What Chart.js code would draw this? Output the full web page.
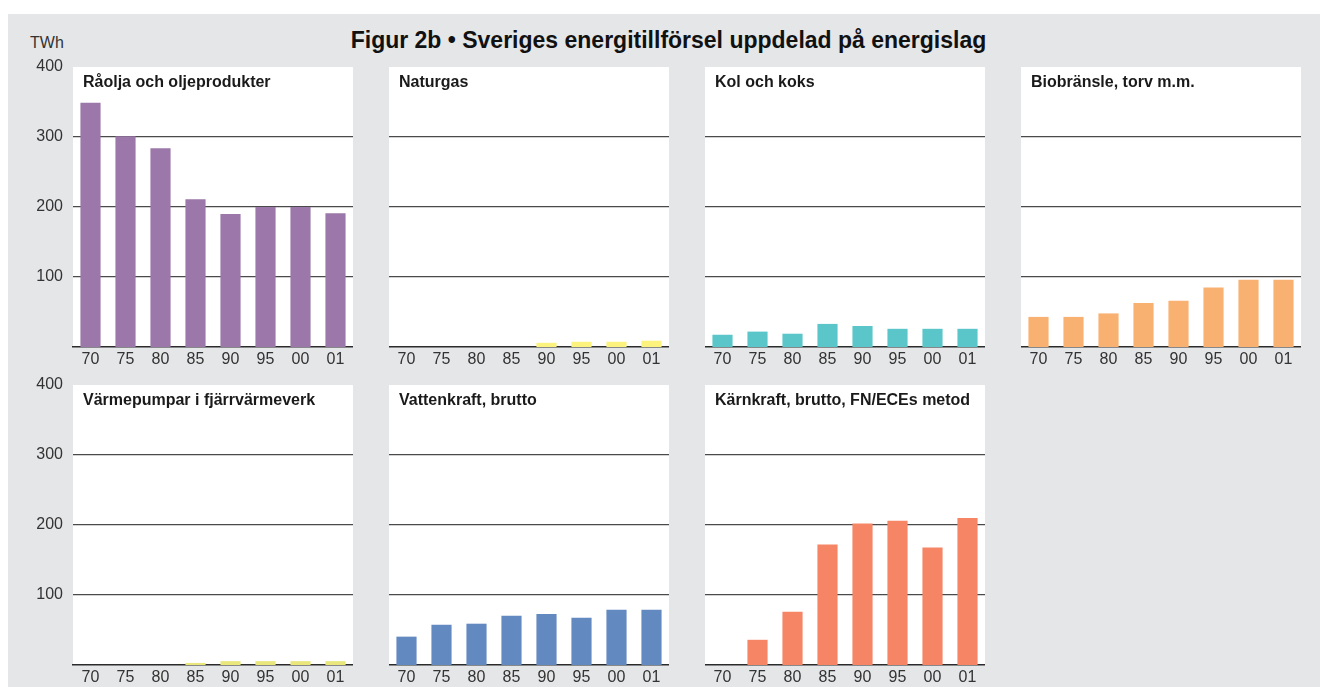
<!DOCTYPE html>
<html lang="sv">
<head>
<meta charset="utf-8">
<script src="https://cdn.jsdelivr.net/npm/chart.js@4/dist/chart.umd.min.js"></script>
<style>
  html, body { margin: 0; padding: 0; background: #ffffff; }
  body { width: 1320px; height: 687px; position: relative; overflow: hidden;
         font-family: "Liberation Sans", Arial, Helvetica, sans-serif; color: #222; }
  #bakgrund { position: absolute; left: 8px; top: 14px; right: 0; bottom: 0; background: #e5e6e8; }
  #rubrik { position: absolute; left: 0; width: 1337px; top: 26px; text-align: center;
            font-weight: bold; font-size: 23px; line-height: 28px; color: #111; }
  #enhet { position: absolute; left: 30px; top: 34px; font-size: 16px; color: #333; }
  .panel { position: absolute; }
  .paneltitel { position: absolute; font-weight: bold; font-size: 16px; line-height: 20px; color: #1a1a1a;
                white-space: nowrap; pointer-events: none; }
</style>
</head>
<body>
<div id="bakgrund"></div>
<div id="rubrik">Figur 2b • Sveriges energitillförsel uppdelad på energislag</div>
<div id="enhet">TWh</div>

<script>
// --- Data (TWh) ---
const ar = ['70', '75', '80', '85', '90', '95', '00', '01'];
const yTicks = [100, 200, 300, 400];

const raolja      = [349, 301, 284, 211, 190, 200, 200, 191];
const naturgas    = [0, 0, 0, 0, 6, 7.5, 7.5, 9];
const kolKoks     = [17.5, 22, 19, 33, 30, 26, 26, 26];
const biobransle  = [43, 43, 48, 63, 66, 85, 96, 96];
const varmepumpar = [0, 0, 0, 3, 5.5, 5.5, 5.5, 5.5];
const vattenkraft = [40.5, 57.5, 59, 70.5, 73, 67.5, 79, 79];
const karnkraft   = [0, 36, 76, 172, 202, 206, 168, 210];

const titlar = [
  'Råolja och oljeprodukter', 'Naturgas', 'Kol och koks', 'Biobränsle, torv m.m.',
  'Värmepumpar i fjärrvärmeverk', 'Vattenkraft, brutto', 'Kärnkraft, brutto, FN/ECEs metod'
];
const serier = [raolja, naturgas, kolKoks, biobransle, varmepumpar, vattenkraft, karnkraft];
const farger = ['#9b77aa', '#fcf27e', '#5ac6ca', '#f9b172', '#e9e67b', '#6389c1', '#f58565'];

// --- Placering av plottytorna ---
const kolumnX = [73, 389, 705, 1021];
const radY = [67, 385];
const plotB = 280, plotH = 280;
// y-axelns etiketter kräver ca 20 px luft ovanför (halv etikett + padding)
const padTop = 22, xAxelH = 24, yAxelB = 65;

// fyller plottytan vit
const vitYta = {
  id: 'vitYta',
  beforeDraw(chart) {
    const { ctx, chartArea: a } = chart;
    ctx.save();
    ctx.fillStyle = '#ffffff';
    ctx.fillRect(a.left, a.top, a.right - a.left, a.bottom - a.top);
    ctx.restore();
  }
};

function skapaPanel(i) {
  const kol = i % 4, rad = Math.floor(i / 4);
  const vansterKol = kol === 0;
  const div = document.createElement('div');
  div.className = 'panel';
  const left = vansterKol ? kolumnX[kol] - yAxelB : kolumnX[kol];
  const bredd = vansterKol ? plotB + yAxelB : plotB;
  div.style.left = left + 'px';
  div.style.top = (radY[rad] - padTop) + 'px';
  div.style.width = bredd + 'px';
  div.style.height = (padTop + plotH + xAxelH) + 'px';
  const canvas = document.createElement('canvas');
  div.appendChild(canvas);
  document.body.appendChild(div);

  const titel = document.createElement('div');
  titel.className = 'paneltitel';
  titel.textContent = titlar[i];
  titel.style.left = (kolumnX[kol] + 10) + 'px';
  titel.style.top = (radY[rad] + 5) + 'px';
  document.body.appendChild(titel);

  new Chart(canvas, {
    type: 'bar',
    data: {
      labels: ar,
      datasets: [{
        data: serier[i],
        backgroundColor: farger[i],
        borderWidth: 0,
        barPercentage: 0.9,
        categoryPercentage: 0.64
      }]
    },
    options: {
      responsive: true,
      maintainAspectRatio: false,
      animation: false,
      layout: { padding: { top: padTop, right: 0, bottom: 0, left: 0 } },
      plugins: { legend: { display: false }, tooltip: { enabled: false } },
      scales: {
        x: {
          grid: { display: false, drawTicks: false },
          border: { display: true, color: '#2b2b2b', width: 1.5 },
          ticks: { color: '#333', font: { family: '"Liberation Sans", Arial, sans-serif', size: 16 }, padding: 3, maxRotation: 0 },
          afterFit: s => { s.height = xAxelH; }
        },
        y: {
          min: 0, max: 400,
          afterBuildTicks: s => { s.ticks = yTicks.map(v => ({ value: v })); },
          grid: {
            drawTicks: false,
            color: c => (c.tick && (c.tick.value === 0 || c.tick.value === 400)) ? 'rgba(0,0,0,0)' : '#4a4a4a',
            lineWidth: 1.3
          },
          border: { display: false },
          ticks: {
            display: vansterKol,
            color: '#333',
            font: { family: '"Liberation Sans", Arial, sans-serif', size: 16 },
            padding: 10
          },
          afterFit: s => { s.width = vansterKol ? yAxelB : 0; }
        }
      }
    },
    plugins: [vitYta]
  });
}

for (let i = 0; i < serier.length; i++) skapaPanel(i);
</script>
</body>
</html>
